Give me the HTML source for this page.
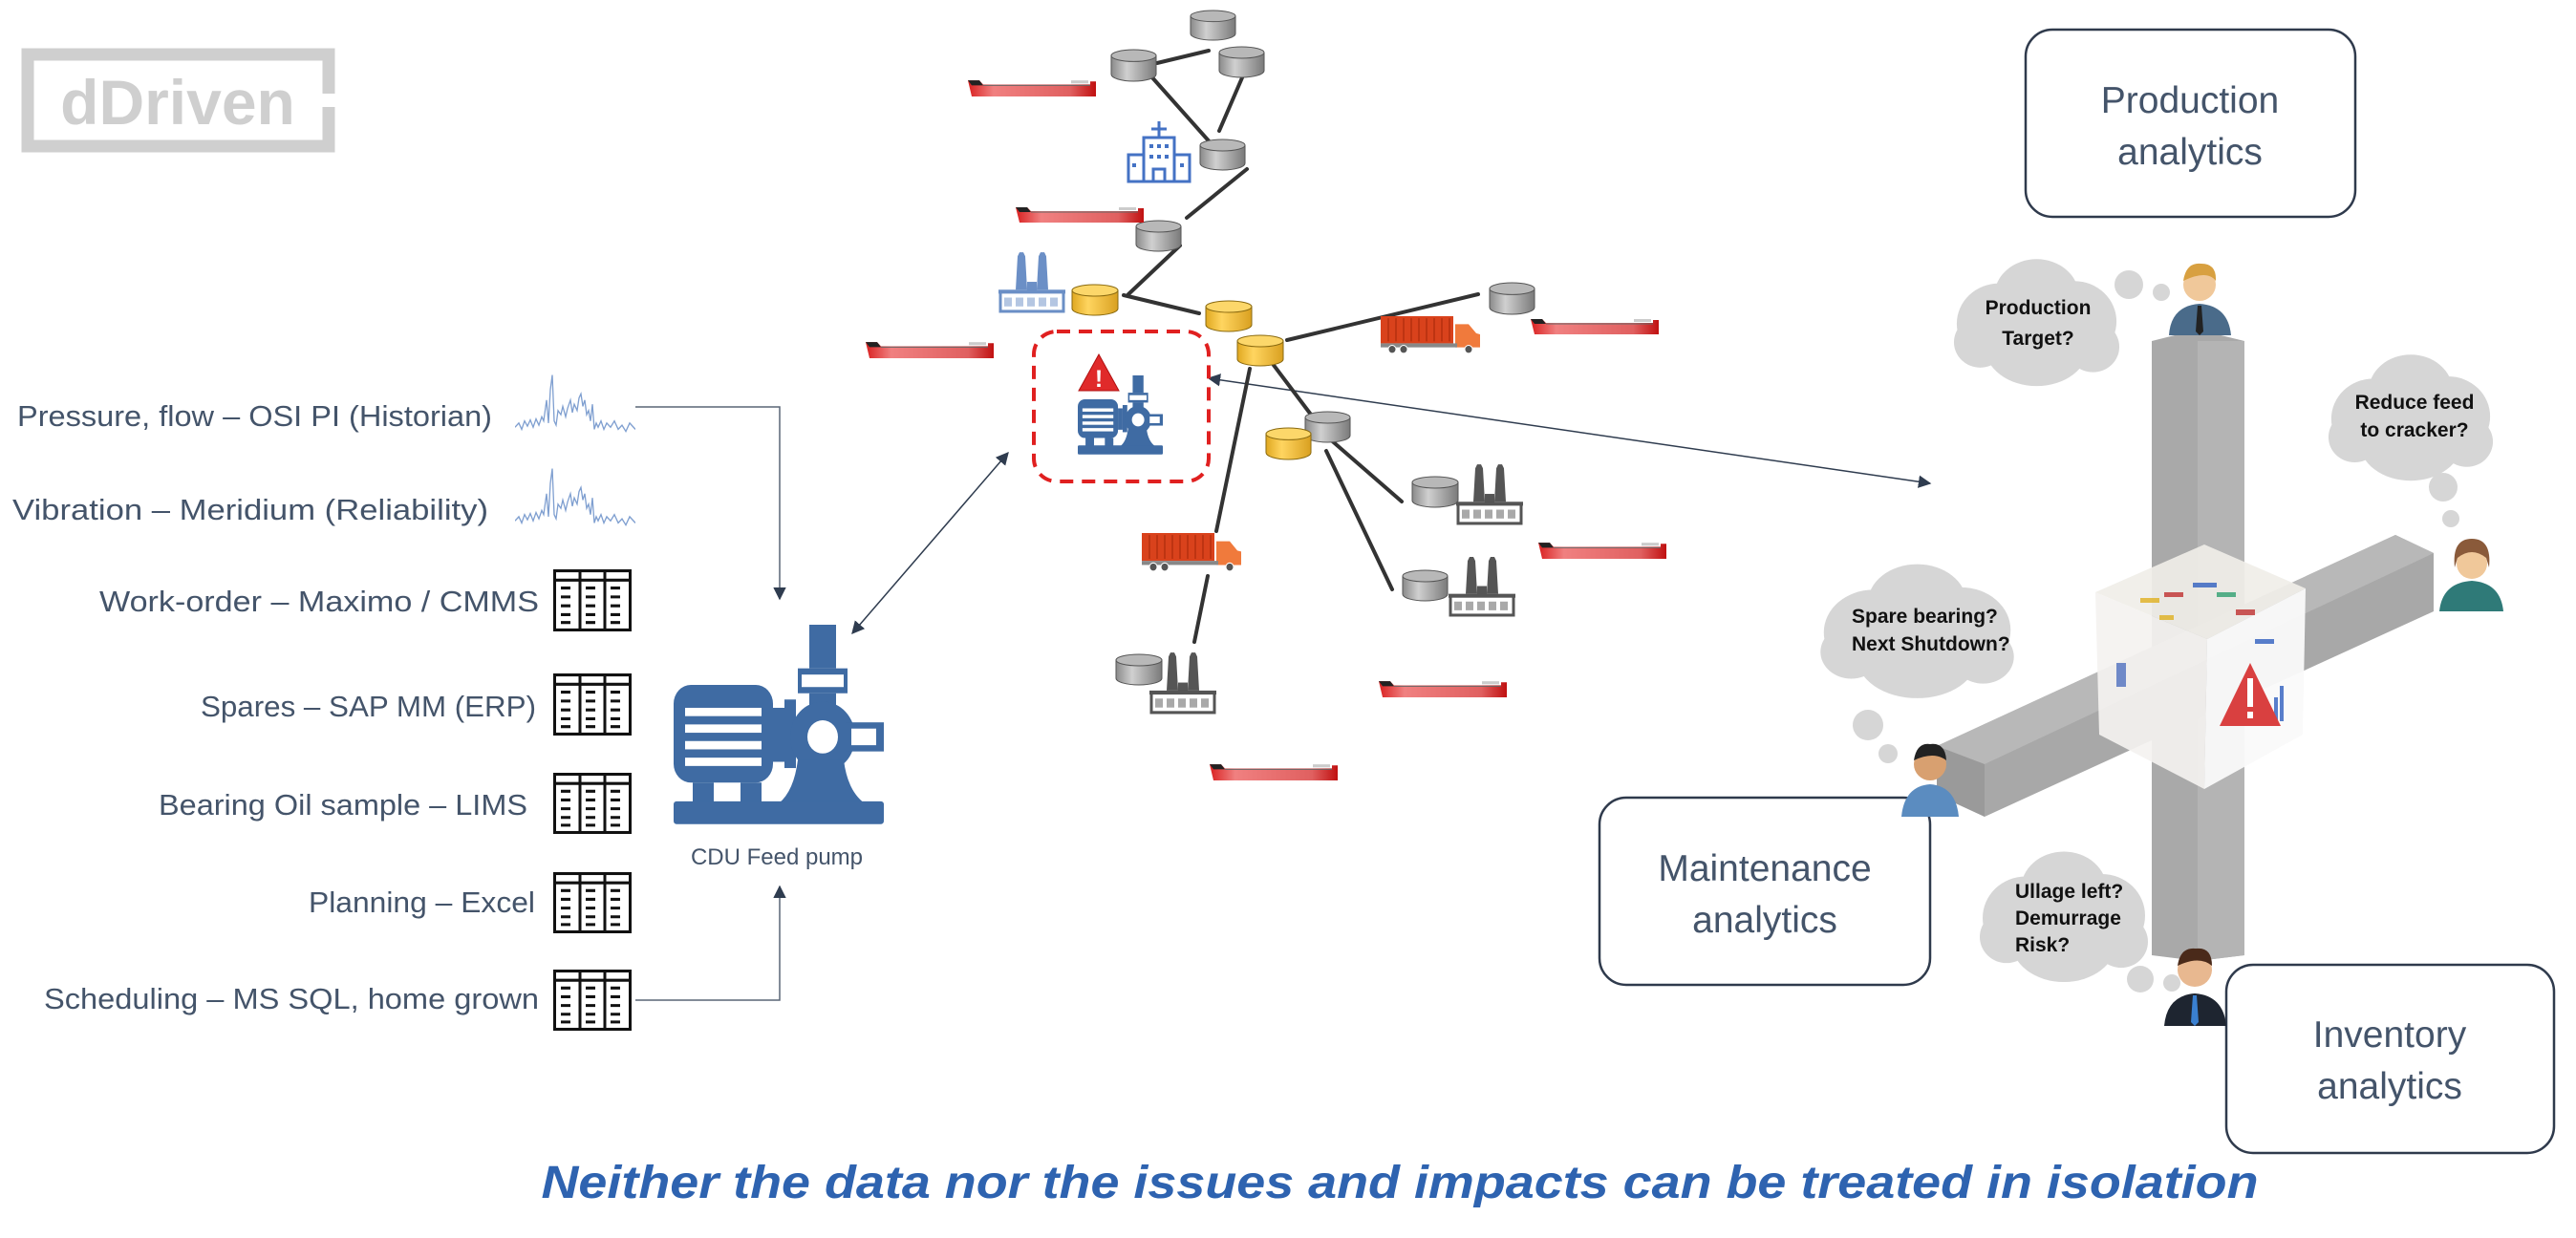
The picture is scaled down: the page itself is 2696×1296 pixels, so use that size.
<!DOCTYPE html>
<html><head><meta charset="utf-8"><style>
html,body{margin:0;padding:0;background:#fff;}
svg{display:block}
</style></head><body>
<svg width="2696" height="1296" viewBox="0 0 2696 1296" xmlns="http://www.w3.org/2000/svg" font-family="Liberation Sans, sans-serif">
<defs>
<linearGradient id="gc" x1="0" x2="1"><stop offset="0" stop-color="#8a8a8a"/><stop offset=".35" stop-color="#d0d0d0"/><stop offset="1" stop-color="#7a7a7a"/></linearGradient>
<linearGradient id="yc" x1="0" x2="1"><stop offset="0" stop-color="#e0a820"/><stop offset=".35" stop-color="#ffd560"/><stop offset="1" stop-color="#d9a020"/></linearGradient>
<linearGradient id="hull" x1="0" x2="1"><stop offset="0" stop-color="#d92020"/><stop offset=".2" stop-color="#f08080"/><stop offset=".8" stop-color="#e06060"/><stop offset="1" stop-color="#c01010"/></linearGradient>
<marker id="ah" viewBox="0 0 10 10" refX="9" refY="5" markerWidth="9" markerHeight="9" orient="auto-start-reverse"><path d="M0,0 L10,5 L0,10 z" fill="#2f3c4f"/></marker>
<symbol id="cyl" viewBox="0 0 50 34" preserveAspectRatio="none"><path d="M1,7 L1,26 A24,7 0 0 0 49,26 L49,7 z" fill="url(#gc)" stroke="#555" stroke-width="1"/><ellipse cx="25" cy="7" rx="24" ry="6" fill="#b8b8b8" stroke="#555" stroke-width="1"/></symbol>
<symbol id="ycyl" viewBox="0 0 50 34" preserveAspectRatio="none"><path d="M1,7 L1,26 A24,7 0 0 0 49,26 L49,7 z" fill="url(#yc)" stroke="#8a6a10" stroke-width="1"/><ellipse cx="25" cy="7" rx="24" ry="6" fill="#fcd76a" stroke="#8a6a10" stroke-width="1"/></symbol>
<symbol id="ship" viewBox="0 0 138 20" preserveAspectRatio="none"><path d="M2,3 L14,3 L18,7 L130,7 L130,4 L136,4 L136,19 L6,19 z" fill="url(#hull)"/><path d="M2,3 L14,3 L18,8 L6,8 z" fill="#222"/><rect x="110" y="3" width="18" height="3" fill="#ccc"/><path d="M18,8 L130,8" stroke="#666" stroke-width="1"/></symbol>
<symbol id="truck" viewBox="0 0 106 38" preserveAspectRatio="none"><rect x="0" y="0" width="76" height="27" fill="#d9421c"/><g stroke="#b5300f" stroke-width="1.5"><path d="M8,2V25M16,2V25M24,2V25M32,2V25M40,2V25M48,2V25M56,2V25M64,2V25M72,2V25"/></g><path d="M78,8 L92,8 L100,17 L104,18 L104,31 L78,31 z" fill="#f07a3c"/><rect x="0" y="27" width="80" height="4" fill="#888"/><circle cx="12" cy="33" r="4" fill="#555" stroke="#fff"/><circle cx="24" cy="33" r="4" fill="#555" stroke="#fff"/><circle cx="92" cy="33" r="4" fill="#555" stroke="#fff"/></symbol>
<symbol id="fact" viewBox="0 0 70 66" preserveAspectRatio="none"><path d="M18,42 L20,8 L22,4 L26,4 L28,8 L30,42z M40,42 L42,8 L44,4 L48,4 L50,8 L52,42z" fill="currentColor"/><rect x="30" y="34" width="10" height="10" fill="currentColor"/><rect x="2" y="44" width="66" height="20" fill="none" stroke="currentColor" stroke-width="3"/><rect x="0" y="42" width="70" height="4" fill="currentColor"/><g fill="currentColor" opacity=".5"><rect x="6" y="50" width="8" height="9"/><rect x="18" y="50" width="8" height="9"/><rect x="30" y="50" width="8" height="9"/><rect x="42" y="50" width="8" height="9"/><rect x="54" y="50" width="8" height="9"/></g></symbol>
<symbol id="tbl" viewBox="0 0 82 63" preserveAspectRatio="none"><rect x="1.5" y="1.5" width="79" height="60" fill="#fff" stroke="#111" stroke-width="3"/><path d="M1.5,11H80.5M28,1.5V61.5M54,1.5V61.5" stroke="#111" stroke-width="3"/><g stroke="#111" stroke-width="3"><path d="M8,19h10M8,28h10M8,37h10M8,46h10M8,54h10M34,19h10M34,28h10M34,37h10M34,46h10M34,54h10M60,19h10M60,28h10M60,37h10M60,46h10M60,54h10"/></g></symbol>
<symbol id="spark" viewBox="0 0 126 64" preserveAspectRatio="none"><polyline fill="none" stroke="#7f9fd0" stroke-width="1.3" points="0,56 4,52 7,58 10,50 13,55 16,49 19,56 22,48 25,54 28,46 30,50 33,30 35,52 37,20 39,6 41,50 43,54 45,40 48,44 50,36 53,46 55,38 58,30 60,42 62,34 65,40 67,28 69,24 71,36 73,30 75,44 77,40 79,50 81,34 83,58 85,52 87,56 90,50 93,58 96,52 100,56 104,50 108,58 112,54 116,60 120,52 126,58"/></symbol>
<symbol id="pump" viewBox="0 0 220 195" preserveAspectRatio="none"><g fill="#3f6ba3"><rect x="0" y="58" width="104" height="94" rx="18"/><rect x="104" y="80" width="12" height="52"/><rect x="116" y="72" width="12" height="66"/><rect x="142" y="0" width="28" height="42"/><rect x="130" y="42" width="52" height="24"/><rect x="142" y="66" width="28" height="12"/><circle cx="156" cy="108" r="34"/><rect x="180" y="94" width="40" height="28"/><path d="M20,152 h22 v20 h-22z M70,152 h22 v20 h-22z M130,130 q-4,30 -20,42 h90 q-18,-12 -22,-42z"/><rect x="0" y="170" width="220" height="22" rx="3"/></g><g fill="#fff"><rect x="12" y="80" width="80" height="8"/><rect x="12" y="96" width="80" height="8"/><rect x="12" y="112" width="80" height="8"/><rect x="12" y="128" width="80" height="8"/><rect x="134" y="48" width="44" height="12"/><circle cx="156" cy="108" r="16"/><rect x="186" y="100" width="26" height="16"/></g></symbol>
<symbol id="cloud" viewBox="0 0 180 120" preserveAspectRatio="none"><g fill="#d6d6d6"><ellipse cx="50" cy="62" rx="45" ry="35"/><ellipse cx="90" cy="38" rx="45" ry="32"/><ellipse cx="130" cy="60" rx="45" ry="35"/><ellipse cx="90" cy="82" rx="55" ry="34"/><ellipse cx="30" cy="78" rx="28" ry="22"/><ellipse cx="150" cy="82" rx="28" ry="22"/></g></symbol>
</defs>

<!-- logo -->
<rect x="29" y="57" width="315" height="96" fill="none" stroke="#cfcfcf" stroke-width="13"/>
<rect x="334" y="98" width="20" height="14" fill="#fff"/>
<text x="186" y="130" font-size="66" font-weight="bold" fill="#cfcfcf" text-anchor="middle">dDriven</text>

<!-- left labels -->
<g font-size="31" fill="#44546a" text-anchor="end">
<text x="515" y="446" textLength="497" lengthAdjust="spacingAndGlyphs">Pressure, flow – OSI PI (Historian)</text>
<text x="511" y="544" textLength="498" lengthAdjust="spacingAndGlyphs">Vibration – Meridium (Reliability)</text>
<text x="564" y="640" textLength="460" lengthAdjust="spacingAndGlyphs">Work-order – Maximo / CMMS</text>
<text x="561" y="750" textLength="351" lengthAdjust="spacingAndGlyphs">Spares – SAP MM (ERP)</text>
<text x="552" y="853" textLength="386" lengthAdjust="spacingAndGlyphs">Bearing Oil sample – LIMS</text>
<text x="560" y="955" textLength="237" lengthAdjust="spacingAndGlyphs">Planning – Excel</text>
<text x="564" y="1056" textLength="518" lengthAdjust="spacingAndGlyphs">Scheduling – MS SQL, home grown</text>
</g>
<use href="#spark" x="539" y="386" width="126" height="70"/>
<use href="#spark" x="539" y="484" width="126" height="70"/>
<use href="#tbl" x="579" y="596" width="82" height="65"/>
<use href="#tbl" x="579" y="705" width="82" height="65"/>
<use href="#tbl" x="579" y="809" width="82" height="64"/>
<use href="#tbl" x="579" y="913" width="82" height="64"/>
<use href="#tbl" x="579" y="1015" width="82" height="64"/>

<!-- connectors to pump -->
<polyline points="665,426 816,426 816,627" fill="none" stroke="#5a6677" stroke-width="1.5" marker-end="url(#ah)"/>
<polyline points="665,1047 816,1047 816,928" fill="none" stroke="#5a6677" stroke-width="1.5" marker-end="url(#ah)"/>
<use href="#pump" x="705" y="654" width="220" height="212"/>
<text x="813" y="905" font-size="24" fill="#44546a" text-anchor="middle">CDU Feed pump</text>
<line x1="892" y1="663" x2="1055" y2="474" stroke="#2f3c4f" stroke-width="1.5" marker-start="url(#ah)" marker-end="url(#ah)"/>
<line x1="1265" y1="396" x2="2020" y2="506" stroke="#2f3c4f" stroke-width="1.5" marker-start="url(#ah)" marker-end="url(#ah)"/>

<!-- network lines -->
<g stroke="#333" stroke-width="4" stroke-linecap="round">
<line x1="1211" y1="66" x2="1265" y2="53"/>
<line x1="1204" y1="79" x2="1269" y2="152"/>
<line x1="1301" y1="79" x2="1276" y2="137"/>
<line x1="1305" y1="177" x2="1242" y2="228"/>
<line x1="1235" y1="257" x2="1181" y2="308"/>
<line x1="1176" y1="309" x2="1255" y2="328"/>
<line x1="1347" y1="356" x2="1547" y2="308"/>
<line x1="1323" y1="369" x2="1372" y2="434"/>
<line x1="1308" y1="386" x2="1273" y2="556"/>
<line x1="1264" y1="603" x2="1250" y2="672"/>
<line x1="1390" y1="458" x2="1467" y2="525"/>
<line x1="1388" y1="472" x2="1457" y2="617"/>
</g>

<!-- cylinders -->
<use href="#cyl" x="1245" y="10" width="49" height="33"/>
<use href="#cyl" x="1162" y="51" width="49" height="35"/>
<use href="#cyl" x="1275" y="48" width="49" height="34"/>
<use href="#cyl" x="1255" y="145" width="49" height="34"/>
<use href="#cyl" x="1188" y="230" width="49" height="34"/>
<use href="#ycyl" x="1121" y="297" width="50" height="34"/>
<use href="#ycyl" x="1261" y="314" width="50" height="34"/>
<use href="#ycyl" x="1294" y="350" width="50" height="34"/>
<use href="#cyl" x="1365" y="430" width="49" height="34"/>
<use href="#ycyl" x="1324" y="447" width="49" height="35"/>
<use href="#cyl" x="1558" y="295" width="49" height="35"/>
<use href="#cyl" x="1477" y="498" width="50" height="34"/>
<use href="#cyl" x="1467" y="596" width="49" height="34"/>
<use href="#cyl" x="1167" y="684" width="50" height="34"/>

<!-- ships -->
<use href="#ship" x="1011" y="81" width="138" height="21"/>
<use href="#ship" x="1061" y="214" width="138" height="20"/>
<use href="#ship" x="904" y="355" width="138" height="21"/>
<use href="#ship" x="1600" y="331" width="138" height="20"/>
<use href="#ship" x="1608" y="565" width="138" height="21"/>
<use href="#ship" x="1441" y="710" width="138" height="21"/>
<use href="#ship" x="1264" y="797" width="138" height="21"/>

<!-- trucks, factories -->
<use href="#truck" x="1445" y="331" width="106" height="40"/>
<use href="#truck" x="1195" y="558" width="106" height="41"/>
<use href="#fact" x="1524" y="482" width="70" height="68" color="#555"/>
<use href="#fact" x="1516" y="579" width="70" height="67" color="#555"/>
<use href="#fact" x="1203" y="679" width="70" height="69" color="#555"/>
<use href="#fact" x="1045" y="260" width="70" height="68" color="#6b8fc6"/>
<!-- building -->
<g fill="none" stroke="#4472c4" stroke-width="3">
<rect x="1197" y="144" width="32" height="46"/><path d="M1213,144V127M1205,135h16"/>
<rect x="1181" y="162" width="16" height="28"/><rect x="1229" y="162" width="16" height="28"/>
<path d="M1207,190v-13h12v13"/>
</g>
<g fill="#4472c4"><rect x="1203" y="151" width="4" height="4"/><rect x="1211" y="151" width="4" height="4"/><rect x="1219" y="151" width="4" height="4"/><rect x="1203" y="162" width="4" height="4"/><rect x="1211" y="162" width="4" height="4"/><rect x="1219" y="162" width="4" height="4"/><rect x="1185" y="171" width="4" height="4"/><rect x="1235" y="171" width="4" height="4"/></g>

<!-- dashed box -->
<rect x="1082" y="347" width="183" height="157" rx="24" fill="#fff" stroke="#e02020" stroke-width="4" stroke-dasharray="14,9"/>
<path d="M1150,371 L1171,409 L1129,409 z" fill="#e02a2a" stroke="#b01010" stroke-width="1"/>
<text x="1150" y="405" font-size="25" font-weight="bold" fill="#fff" text-anchor="middle">!</text>
<use href="#pump" x="1128" y="393" width="89" height="84"/>

<!-- pillar & bar -->
<path d="M2252,357 L2300,345 L2349,357 L2349,1000 L2300,1006 L2252,1000 z" fill="#a9a9a9"/>
<path d="M2300,357 L2349,357 L2349,1000 L2300,1006 z" fill="#b4b4b4"/>
<path d="M2027,781 L2507,560 L2547,579 L2547,640 L2077,855 L2027,822 z" fill="#a8a8a8"/>
<path d="M2027,781 L2507,560 L2547,579 L2077,800 z" fill="#b8b8b8"/>
<path d="M2027,781 L2077,800 L2077,855 L2027,832 z" fill="#9a9a9a"/>
<!-- cube -->
<path d="M2193,620 L2307,570 L2413,616 L2310,669 z" fill="#f0eee8" opacity=".92"/>
<path d="M2193,620 L2310,669 L2307,826 L2197,769 z" fill="#f4f2f0" opacity=".92"/>
<path d="M2310,669 L2413,616 L2410,769 L2307,826 z" fill="#fafafa" opacity=".95"/>
<g opacity=".8"><rect x="2240" y="626" width="20" height="5" fill="#e0b020"/><rect x="2265" y="620" width="20" height="5" fill="#c03030"/><rect x="2295" y="610" width="25" height="5" fill="#3060c0"/><rect x="2320" y="620" width="20" height="5" fill="#30a070"/><rect x="2340" y="638" width="20" height="6" fill="#c03030"/><rect x="2260" y="644" width="15" height="5" fill="#e0b020"/><rect x="2215" y="694" width="10" height="25" fill="#5070c0"/><rect x="2380" y="730" width="4" height="25" fill="#3060c0"/><rect x="2386" y="718" width="4" height="37" fill="#3060c0"/><rect x="2360" y="669" width="20" height="5" fill="#3060c0"/></g>
<path d="M2355,694 L2387,760 L2323,760 z" fill="#d94040"/>
<rect x="2352" y="710" width="6" height="30" fill="#fff"/><rect x="2352" y="745" width="6" height="7" fill="#fff"/>

<!-- analytics boxes -->
<rect x="2120" y="31" width="345" height="196" rx="28" fill="#fff" stroke="#2f3a4c" stroke-width="2.5"/>
<rect x="1674" y="835" width="346" height="196" rx="28" fill="#fff" stroke="#2f3a4c" stroke-width="2.5"/>
<rect x="2330" y="1010" width="343" height="197" rx="28" fill="#fff" stroke="#2f3a4c" stroke-width="2.5"/>
<g font-size="39" fill="#44546a" text-anchor="middle">
<text x="2292" y="118">Production</text><text x="2292" y="172">analytics</text>
<text x="1847" y="922">Maintenance</text><text x="1847" y="976">analytics</text>
<text x="2501" y="1096">Inventory</text><text x="2501" y="1150">analytics</text>
</g>

<!-- clouds -->
<use href="#cloud" x="2043" y="264" width="177" height="145"/>
<circle cx="2228" cy="298" r="15" fill="#d6d6d6"/><circle cx="2262" cy="306" r="9" fill="#d6d6d6"/>
<use href="#cloud" x="2435" y="364" width="176" height="144"/>
<circle cx="2557" cy="510" r="15" fill="#d6d6d6"/><circle cx="2565" cy="543" r="9" fill="#d6d6d6"/>
<use href="#cloud" x="1903" y="583" width="207" height="153"/>
<circle cx="1955" cy="759" r="16" fill="#d6d6d6"/><circle cx="1976" cy="789" r="10" fill="#d6d6d6"/>
<use href="#cloud" x="2070" y="884" width="180" height="149"/>
<circle cx="2240" cy="1025" r="14" fill="#d6d6d6"/><circle cx="2273" cy="1029" r="9" fill="#d6d6d6"/>
<g font-size="21" font-weight="bold" fill="#111">
<text x="2133" y="329" text-anchor="middle">Production</text><text x="2133" y="361" text-anchor="middle">Target?</text>
<text x="2527" y="428" text-anchor="middle">Reduce feed</text><text x="2527" y="457" text-anchor="middle">to cracker?</text>
<text x="1938" y="652">Spare bearing?</text><text x="1938" y="681">Next Shutdown?</text>
<text x="2109" y="940">Ullage left?</text><text x="2109" y="968">Demurrage</text><text x="2109" y="996">Risk?</text>
</g>

<!-- people -->
<g>
<path d="M2270,351 Q2272,320 2302,318 Q2332,320 2335,351z" fill="#4a6b8a"/><circle cx="2302" cy="298" r="17" fill="#f0c89a"/><path d="M2285,294 Q2288,274 2304,276 Q2320,276 2319,294 Q2310,282 2285,294z" fill="#d8a040"/><path d="M2300,320 L2304,320 L2306,347 L2302,351 L2298,347z" fill="#222"/>
<path d="M2553,640 Q2556,610 2587,608 Q2617,610 2620,640z" fill="#2f7a78"/><circle cx="2587" cy="590" r="16" fill="#f0c89a"/><path d="M2569,594 Q2566,564 2587,564 Q2608,564 2605,594 L2602,584 Q2587,572 2572,584z" fill="#8a5a3a"/>
<path d="M1990,855 Q1993,823 2020,821 Q2047,823 2050,855z" fill="#5b8cc0"/><circle cx="2020" cy="800" r="17" fill="#d8a070"/><path d="M2003,796 Q2006,777 2020,779 Q2036,777 2037,796 Q2024,786 2003,796z" fill="#222"/>
<path d="M2265,1074 Q2268,1042 2297,1040 Q2327,1042 2330,1074z" fill="#1e2530"/><circle cx="2297" cy="1015" r="18" fill="#e8b890"/><path d="M2279,1011 Q2282,991 2298,993 Q2315,991 2315,1011 Q2302,1000 2279,1011z" fill="#4a2a1a"/><path d="M2295,1042 L2299,1042 L2301,1070 L2297,1074 L2293,1070z" fill="#3a80d0"/>
</g>

<!-- title -->
<text x="1465" y="1254" font-size="48" font-weight="bold" font-style="italic" fill="#2e63b0" text-anchor="middle" textLength="1797" lengthAdjust="spacingAndGlyphs">Neither the data nor the issues and impacts can be treated in isolation</text>
</svg>
</body></html>
